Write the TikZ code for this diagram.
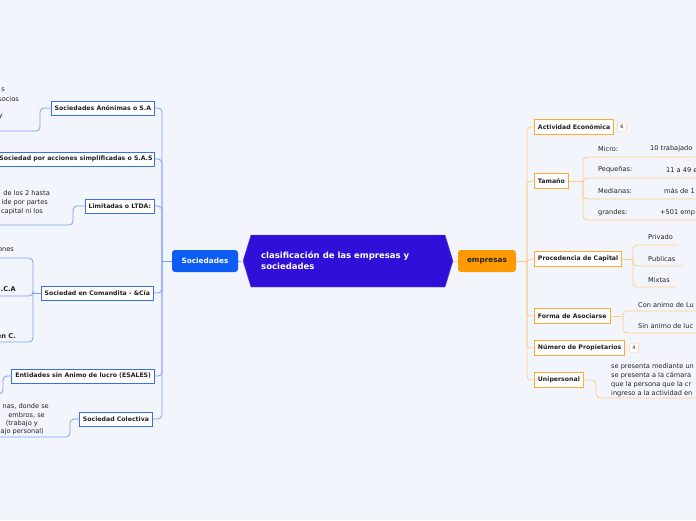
\documentclass[tikz,border=0pt]{standalone}
\usepackage{fontspec}
\setmainfont{DejaVu Sans}
\usetikzlibrary{positioning,calc,shapes.symbols}
\definecolor{fondo}{HTML}{F3F5FD}
\definecolor{morado}{HTML}{3010D8}
\definecolor{azul}{HTML}{0D5CF6}
\definecolor{azulborde}{HTML}{3A6EF2}
\definecolor{azulrama}{HTML}{7F9DF6}
\definecolor{naranja}{HTML}{FF9A00}
\definecolor{naranjaborde}{HTML}{FFAA33}
\definecolor{naranjarama}{HTML}{FFCC88}
\definecolor{texto}{HTML}{222222}
\tikzstyle{socnodo}=[draw=azulborde, fill=white, line width=0.9pt, text=texto, font=\bfseries\fontsize{6.2}{7}\selectfont, minimum height=14pt, inner xsep=3.5pt, inner ysep=0pt]
\tikzstyle{empnodo}=[draw=naranjaborde, fill=white, line width=0.9pt, text=texto, font=\bfseries\fontsize{6.2}{7}\selectfont, minimum height=15pt, inner xsep=3.5pt, inner ysep=0pt]
\tikzstyle{ramaS}=[draw=azulrama, line width=0.8pt, rounded corners=4pt]
\tikzstyle{ramaE}=[draw=naranjarama, line width=0.8pt, rounded corners=4pt]
\tikzstyle{hoja}=[text=texto, font=\fontsize{6.6}{9}\selectfont, inner sep=0pt]
\tikzstyle{hojaizq}=[hoja, anchor=east]
\tikzstyle{badge}=[draw=naranjarama, fill=white, rounded corners=2pt, text=texto, font=\fontsize{5}{5}\selectfont, inner sep=1pt, minimum width=9pt, minimum height=9pt]

\begin{document}
\begin{tikzpicture}[x=1pt,y=-1pt]
\fill[fondo] (0,0) rectangle (696,520);
\useasboundingbox (0,0) rectangle (696,520);
\clip (0,0) rectangle (696,520);

% centro
\node[signal, signal to=west and east, signal pointer angle=146, fill=morado, draw=morado!75!white, minimum width=210pt, minimum height=52pt, inner sep=0pt] (centro) at (348,261) {};
\node[anchor=west, text=white, font=\bfseries\fontsize{8.5}{11}\selectfont, align=left, inner sep=0pt] (titulo) at (261,261) {clasificación de las empresas y\\sociedades};
\node[fill=azul, rounded corners=3pt, minimum width=66pt, minimum height=22pt, text=white, font=\bfseries\fontsize{7.3}{8}\selectfont] (sociedades) at (205,261) {Sociedades};
\node[fill=naranja, rounded corners=3pt, minimum width=58pt, minimum height=22pt, text=texto, font=\bfseries\fontsize{7.3}{8}\selectfont] (empresas) at (487,261) {empresas};
\draw[azulrama, dashed, line width=0.6pt] (sociedades.east) -- (centro.west);
\draw[naranjarama, line width=0.6pt] (centro.east) -- (empresas.west);

% sociedades
\node[socnodo, anchor=east] (sa) at (155,108) {Sociedades Anónimas o S.A};
\node[socnodo, anchor=east, inner xsep=2pt] (sas) at (155,159) {Sociedad por acciones simplificadas o S.A.S};
\node[socnodo, anchor=east] (ltda) at (155,206) {Limitadas o LTDA:};
\node[socnodo, anchor=east] (comandita) at (154,293) {Sociedad en Comandita - \&Cía};
\node[socnodo, anchor=east] (esales) at (155,376) {Entidades sin Animo de lucro (ESALES)};
\node[socnodo, anchor=east] (colectiva) at (153,419) {Sociedad Colectiva};
\coordinate (hubS) at (162,261);
\draw[ramaS] (sociedades.west) -- (hubS);
\foreach \n in {sa,sas,ltda,comandita,esales,colectiva}
  \draw[ramaS] (hubS) |- (\n.east);

% hojas de la izquierda
\node[hojaizq] (sa1) at (5,90) {s};
\node[hojaizq] (sa2) at (19,99) {socios};
\node[hojaizq] (sa3) at (3,116) {y};
\coordinate (sa-u) at (-5,131);
\draw[ramaS] (sa.west) -- (40,108) |- (sa-u);

\node[hojaizq] (lt1) at (50,193) {de los 2 hasta};
\node[hojaizq] (lt2) at (48,203) {ide por partes};
\node[hojaizq] (lt3) at (43,212) {capital ni los};
\coordinate (lt-u) at (-5,225);
\draw[ramaS] (ltda.west) -- (73,206) |- (lt-u);

\coordinate (comB) at (33,293);
\node[hojaizq] (com1) at (14,250) {ones};
\node[hojaizq, font=\bfseries\fontsize{6.6}{8}\selectfont] (com2) at (16,289) {.C.A};
\node[hojaizq, font=\bfseries\fontsize{6.6}{8}\selectfont] (com3) at (16,336) {en C.};
\draw[ramaS] (comandita.west) -- (comB);
\foreach \uy in {258,296,342} {
  \coordinate (com-u) at (-5,\uy);
  \draw[ramaS] (comB) |- (com-u);
}

\coordinate (es-u) at (-8,394);
\draw[ramaS] (esales.west) -- (3,376) |- (es-u);

\node[hojaizq] (col1) at (49,406) {nas, donde se};
\node[hojaizq] (col2) at (45,415) {embros, se};
\node[hojaizq] (col3) at (38,424) {(trabajo y};
\node[hojaizq] (col4) at (44,432) {ajo personal)};
\coordinate (col-u) at (-5,437);
\draw[ramaS] (colectiva.west) -- (70,419) |- (col-u);

% empresas
\node[empnodo, anchor=west] (actividad) at (534,127) {Actividad Económica};
\node[badge, right=3pt of actividad] (n6) {6};
\node[empnodo, anchor=west] (tamano) at (534,181) {Tamaño};
\node[empnodo, anchor=west] (capital) at (534,259) {Procedencia de Capital};
\node[empnodo, anchor=west] (asociarse) at (534,316) {Forma de Asociarse};
\node[empnodo, anchor=west] (propietarios) at (534,348) {Número de Propietarios};
\node[badge, right=4pt of propietarios] (n4) {4};
\node[empnodo, anchor=west] (unipersonal) at (534,380) {Unipersonal};
\coordinate (hubE) at (527,261);
\draw[ramaE] (empresas.east) -- (hubE);
\foreach \n in {actividad,tamano,capital,asociarse,propietarios,unipersonal}
  \draw[ramaE] (hubE) |- (\n.west);

% tamano
\coordinate (tamB) at (583,181);
\draw[ramaE] (tamano.east) -- (tamB);
\foreach \nom/\lab/\val/\ty/\uy/\vx in {micro/Micro:/10 trabajado/149/157/650, peq/Pequeñas:/11 a 49 e/170/178/666, med/Medianas:/más de 1/191/199/664, gra/grandes:/+501 emp/213/220/660} {
  \node[hoja, anchor=west] (\nom) at (598,\ty) {\lab};
  \node[hoja, anchor=west] (\nom-v) at (\vx,\ty) {\val};
  \coordinate (\nom-u) at (705,\uy);
  \draw[ramaE] (tamB) |- (\nom-u);
}

% capital
\coordinate (capB) at (633,259);
\draw[ramaE] (capital.east) -- (capB);
\foreach \nom/\lab/\ty/\uy/\ux in {privado/Privado/237/245/678, publicas/Publicas/259/266/682, mixtas/Mixtas/280/287/675} {
  \node[hoja, anchor=west] (\nom) at (648,\ty) {\lab};
  \coordinate (\nom-u) at (\ux,\uy);
  \draw[ramaE] (capB) |- (\nom-u);
}

% asociarse
\coordinate (asoB) at (623,316);
\draw[ramaE] (asociarse.east) -- (asoB);
\node[hoja, anchor=west] (con) at (638,305) {Con animo de Lu};
\node[hoja, anchor=west] (sin) at (638,326) {Sin animo de luc};
\coordinate (con-u) at (705,311);
\coordinate (sin-u) at (705,333);
\draw[ramaE] (asoB) |- (con-u);
\draw[ramaE] (asoB) |- (sin-u);

% unipersonal
\node[hoja, anchor=west, align=left] (uni) at (611,380.5) {se presenta mediante un\\se presenta a la cámara\\que la persona que la cr\\ingreso a la actividad en};
\coordinate (uni-u) at (705,398);
\draw[ramaE] (unipersonal.east) -- (596,380) |- (uni-u);
\end{tikzpicture}
\end{document}
